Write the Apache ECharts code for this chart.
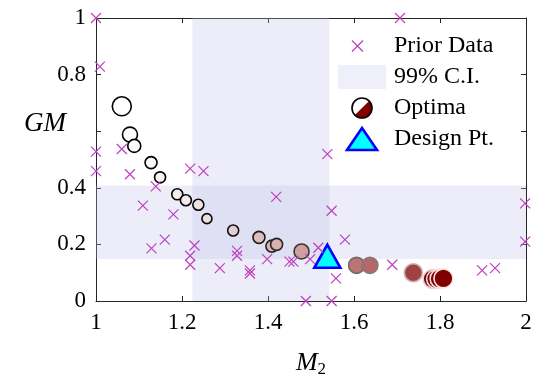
<!DOCTYPE html>
<html>
<head>
<meta charset="utf-8">
<script src="https://cdn.jsdelivr.net/npm/echarts@6/dist/echarts.min.js"></script>
<style>
    html, body { margin: 0; padding: 0; background: #fff; }
    #chart { width: 545px; height: 383px; }
</style>
</head>
<body>
<div id="chart"></div>
<script>
    // prior data points
    var priorM2 = [1.000, 1.009, 1.000, 1.060, 1.000, 1.079, 1.139, 1.109, 1.180, 1.129,
                   1.160, 1.219, 1.250, 1.229, 1.219, 1.219, 1.288, 1.328, 1.328, 1.358,
                   1.358, 1.398, 1.450, 1.459, 1.498, 1.517, 1.419, 1.548, 1.538, 1.579,
                   1.558, 1.488, 1.548, 1.689, 1.898, 1.928, 1.998, 1.998, 1.707];
    var priorGM = [1.000, 0.828, 0.528, 0.537, 0.459, 0.448, 0.405, 0.337, 0.306, 0.186,
                   0.217, 0.468, 0.459, 0.196, 0.160, 0.128, 0.116, 0.177, 0.160, 0.108,
                   0.097, 0.148, 0.139, 0.139, 0.148, 0.188, 0.368, 0.319, 0.519, 0.217,
                   0.080, 0.000, 0.000, 0.128, 0.108, 0.116, 0.345, 0.210, 1.000];
    // optima
    var optimaM2 = [1.060, 1.079, 1.089, 1.128, 1.149, 1.189, 1.209, 1.238, 1.258, 1.319,
                    1.379, 1.409, 1.420, 1.478, 1.606, 1.637, 1.738, 1.783, 1.791, 1.799, 1.808];
    var optimaGM = [0.688, 0.588, 0.548, 0.489, 0.437, 0.377, 0.356, 0.340, 0.291, 0.249,
                    0.225, 0.194, 0.200, 0.175, 0.126, 0.126, 0.100, 0.078, 0.078, 0.079, 0.080];
    // design point
    var designM2 = [1.538];
    var designGM = [0.158];
    // 99% confidence intervals
    var ciM2 = [1.224, 1.543];
    var ciGM = [0.148, 0.408];
    var yTickLabels = ['0', '0.2', '0.4', '', '0.8', '1'];

    var optimaSymbolSize = [19, 15, 13, 12, 11, 11, 11, 11, 10, 11, 12, 12, 12, 15, 16, 16, 18, 19, 19, 19, 19];

    var FONT = 'Liberation Serif';
    var AXIS_COLOR = '#262626';
    var MAGENTA = '#bf40bf';
    var CI_COLOR = 'rgba(190,190,235,0.28)';

    function mix(a, b, t) {
        return 'rgb(' + [0, 1, 2].map(function (i) {
            return Math.round(a[i] + (b[i] - a[i]) * t);
        }).join(',') + ')';
    }
    function svgIcon(body) {
        var svg = "<svg xmlns='http://www.w3.org/2000/svg' width='50' height='26'>" + body + "</svg>";
        return 'image://data:image/svg+xml;charset=utf-8,' + encodeURIComponent(svg);
    }

    // shade from white to dark red along M2, edge from black to white
    var lo = optimaM2[0], hi = optimaM2[optimaM2.length - 1];
    var optimaData = optimaM2.map(function (m, i) {
        var u = (m - lo) / (hi - lo);
        var t = u < 0.95 ? Math.pow(u, 1.4) * 0.85 : 1;
        var e = Math.pow(u, 2.5);
        return {
            value: [m, optimaGM[i]],
            symbolSize: optimaSymbolSize[i],
            itemStyle: {
                color: mix([255, 255, 255], [128, 0, 0], t),
                borderColor: mix([0, 0, 0], [255, 230, 230], e)
            }
        };
    });

    var axisBase = {
        type: 'value',
        axisLine: { show: true, onZero: false, lineStyle: { color: AXIS_COLOR, width: 1 } },
        axisTick: { show: true, inside: true, length: 5, lineStyle: { color: AXIS_COLOR } },
        splitLine: { show: false }
    };

    var myChart = echarts.init(document.getElementById('chart'));
    var option = {
        animation: false,
        backgroundColor: '#fff',
        grid: { left: 96, right: 19, top: 18, bottom: 73 },
        xAxis: [
            Object.assign({}, axisBase, {
                min: 1, max: 2, interval: 0.2, position: 'bottom',
                axisLabel: { color: '#000', fontFamily: FONT, fontSize: 23, margin: 10,
                    formatter: function (v) { return +v.toFixed(1) + ''; } },
                name: '{m|M}{s|2}',
                nameLocation: 'middle',
                nameGap: 48,
                nameTextStyle: {
                    rich: {
                        m: { fontFamily: FONT, fontStyle: 'italic', fontSize: 26, color: '#000' },
                        s: { fontFamily: FONT, fontSize: 17, color: '#000', padding: [12, 0, 0, 0] }
                    }
                }
            }),
            Object.assign({}, axisBase, {
                min: 1, max: 2, interval: 0.2, position: 'top', axisLabel: { show: false }
            })
        ],
        yAxis: [
            Object.assign({}, axisBase, {
                min: 0, max: 1, interval: 0.2, position: 'left',
                axisLabel: { color: '#000', fontFamily: FONT, fontSize: 23, margin: 10,
                    formatter: function (v) { return yTickLabels[Math.round(v * 5)]; } }
            }),
            Object.assign({}, axisBase, {
                min: 0, max: 1, interval: 0.2, position: 'right', axisLabel: { show: false }
            })
        ],
        graphic: [{
            type: 'text',
            left: 24, top: 110,
            style: { text: 'GM', fontFamily: FONT, fontStyle: 'italic', fontSize: 27, fill: '#000' }
        }],
        legend: {
            orient: 'vertical',
            left: 337, top: 33,
            padding: 0,
            itemWidth: 50, itemHeight: 26, itemGap: 5,
            selectedMode: false,
            textStyle: { fontFamily: FONT, fontSize: 24, color: '#000', padding: [0, 0, 0, 2] },
            data: [
                { name: 'Prior Data', icon: svgIcon("<path d='M15 7.5L26 18.5M26 7.5L15 18.5' stroke='" + MAGENTA + "' stroke-width='1.3'/>") },
                { name: '99% C.I.', icon: svgIcon("<rect x='1' y='1' width='48' height='24' fill='#ececf8'/>") },
                { name: 'Optima', icon: svgIcon("<circle cx='25' cy='13' r='10' fill='#fff'/>" +
                    "<path d='M32.07 5.93A10 10 0 0 1 17.93 20.07Z' fill='#800000'/>" +
                    "<circle cx='25' cy='13' r='10' fill='none' stroke='#000' stroke-width='1.6'/>") },
                { name: 'Design Pt.', icon: svgIcon("<polygon points='25,2 40,24 10,24' fill='#00ffff' stroke='#0000ff' stroke-width='2.6' stroke-linejoin='miter'/>") }
            ]
        },
        series: [
            {
                name: '99% C.I.',
                type: 'scatter',
                data: [],
                markArea: {
                    silent: true,
                    itemStyle: { color: CI_COLOR },
                    data: [
                        [{ xAxis: ciM2[0], yAxis: 0 }, { xAxis: ciM2[1], yAxis: 1 }],
                        [{ xAxis: 1, yAxis: ciGM[0] }, { xAxis: 2, yAxis: ciGM[1] }]
                    ]
                }
            },
            {
                name: 'Optima',
                type: 'scatter',
                symbol: 'circle',
                itemStyle: { borderWidth: 1.6, opacity: 1 },
                data: optimaData,
                z: 3
            },
            {
                name: 'Design Pt.',
                type: 'scatter',
                symbol: 'triangle',
                symbolSize: [26, 23],
                itemStyle: { color: '#00ffff', borderColor: '#0000ff', borderWidth: 2.6, opacity: 1 },
                data: designM2.map(function (m, i) { return [m, designGM[i]]; }),
                z: 4
            },
            {
                name: 'Prior Data',
                type: 'scatter',
                symbol: 'path://M0,0L10,10M10,0L0,10',
                symbolSize: 10,
                itemStyle: { color: MAGENTA, borderColor: MAGENTA, borderWidth: 1.2, opacity: 1 },
                data: priorM2.map(function (m, i) { return [m, priorGM[i]]; }),
                z: 5
            }
        ]
    };
    myChart.setOption(option);
</script>
</body>
</html>
